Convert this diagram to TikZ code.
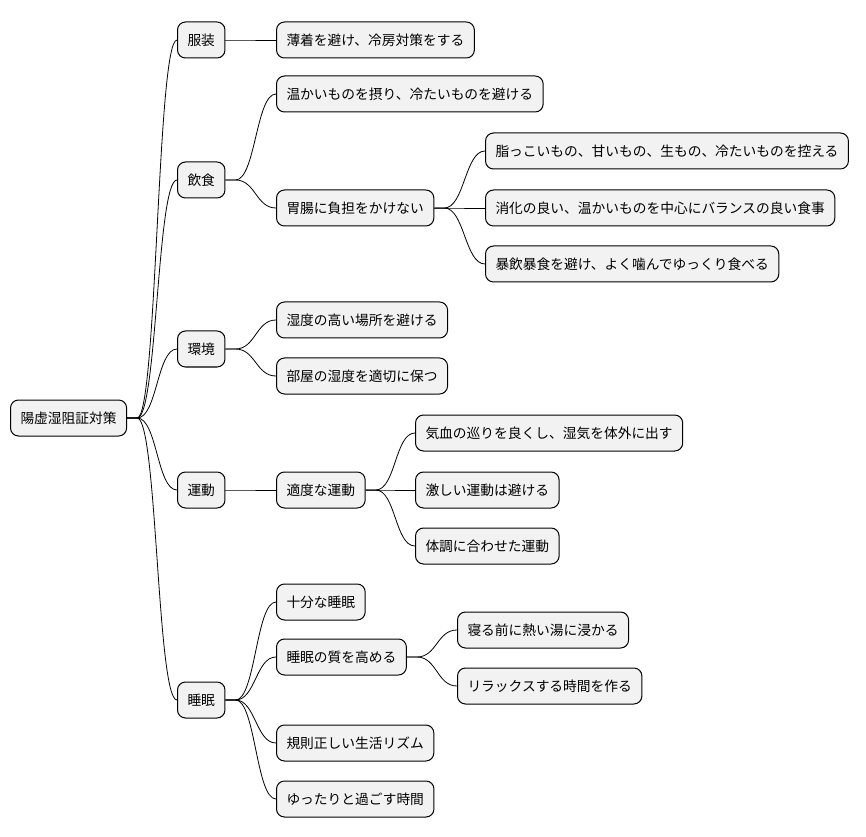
\documentclass[tikz,border=0pt]{standalone}
\usepackage{fontspec}
\setmainfont{Noto Sans CJK JP}
\begin{document}
\begin{tikzpicture}[x=0.75pt,y=-0.75pt,
  box/.style={draw=black,line width=0.75pt,fill=black!5,rounded corners=6pt,anchor=west,
    font=\fontsize{10.3pt}{12pt}\selectfont,inner xsep=7.5pt,minimum height=27pt},
  lk/.style={line width=0.6pt}]
\useasboundingbox (0,0) rectangle (866,837);
\node[box] (r) at (10,418) {陽虚湿阻証対策};
\node[box] (a) at (177,40) {服装};
\node[box] (a1) at (276,40) {薄着を避け、冷房対策をする};
\node[box] (b) at (177,180) {飲食};
\node[box] (b1) at (276,94) {温かいものを摂り、冷たいものを避ける};
\node[box] (b2) at (276,208) {胃腸に負担をかけない};
\node[box] (b21) at (485,151) {脂っこいもの、甘いもの、生もの、冷たいものを控える};
\node[box] (b22) at (485,208) {消化の良い、温かいものを中心にバランスの良い食事};
\node[box] (b23) at (485,264) {暴飲暴食を避け、よく噛んでゆっくり食べる};
\node[box] (c) at (177,349) {環境};
\node[box] (c1) at (276,320) {湿度の高い場所を避ける};
\node[box] (c2) at (276,376) {部屋の湿度を適切に保つ};
\node[box] (d) at (177,490) {運動};
\node[box] (d1) at (276,490) {適度な運動};
\node[box] (d11) at (415,433) {気血の巡りを良くし、湿気を体外に出す};
\node[box] (d12) at (415,490) {激しい運動は避ける};
\node[box] (d13) at (415,546) {体調に合わせた運動};
\node[box] (e) at (177,700) {睡眠};
\node[box] (e1) at (276,602) {十分な睡眠};
\node[box] (e2) at (276,657) {睡眠の質を高める};
\node[box] (e21) at (457,630) {寝る前に熱い湯に浸かる};
\node[box] (e22) at (457,686) {リラックスする時間を作る};
\node[box] (e3) at (276,743) {規則正しい生活リズム};
\node[box] (e4) at (276,799) {ゆったりと過ごす時間};
\foreach \p/\c in {r/a,r/b,r/c,r/d,r/e,a/a1,b/b1,b/b2,b2/b21,b2/b22,b2/b23,c/c1,c/c2,
  d/d1,d1/d11,d1/d12,d1/d13,e/e1,e/e2,e2/e21,e2/e22,e/e3,e/e4}
  \draw[lk] (\p.east) -- ++(10,0) .. controls +(20,0) and +(-20,0) .. (\c.west);
\end{tikzpicture}
\end{document}
